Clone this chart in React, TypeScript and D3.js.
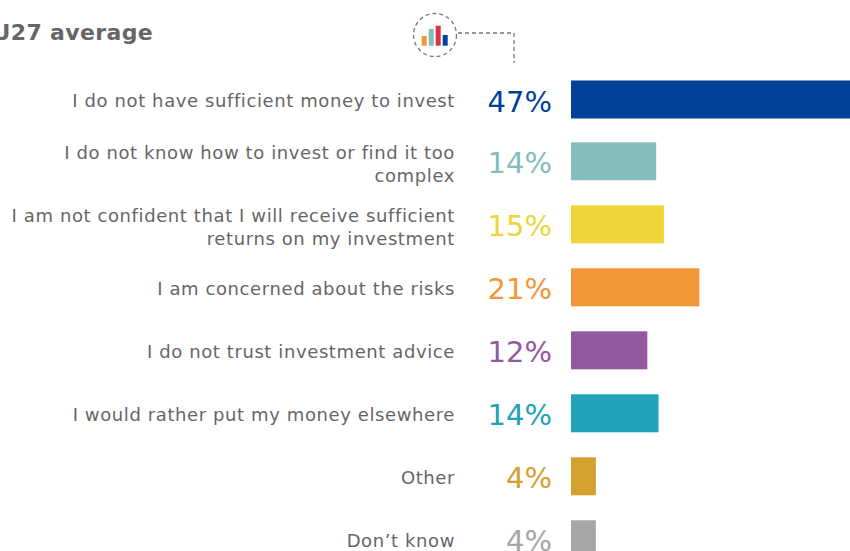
import React from "react";
import * as d3 from "d3";

const title = "EU27 average";
const labels: string[][] = [
  ["I do not have sufficient money to invest"],
  ["I do not know how to invest or find it too", "complex"],
  ["I am not confident that I will receive sufficient", "returns on my investment"],
  ["I am concerned about the risks"],
  ["I do not trust investment advice"],
  ["I would rather put my money elsewhere"],
  ["Other"],
  ["Don’t know"],
];
const values = [47, 14, 15, 21, 12, 14, 4, 4];
const widths = [48.5, 14.4, 15.7, 21.7, 12.9, 14.8, 4.2, 4.2];
const colors = ["#00429a", "#85bcbc", "#eed538", "#f39637", "#93599e", "#20a2b8", "#d4a02f", "#a6a6a6"];
const iconHeights = [9.7, 16.7, 20, 10.7];
const iconColors = ["#f39637", "#85bcbc", "#dc3545", "#00429a"];

const font = "Verdana, 'DejaVu Sans', sans-serif";

export default function App() {
  const x = d3.scaleLinear().domain([0, 48.5]).range([571, 858]);
  const y = d3.scaleLinear().domain([0, 1, 7]).range([99.5, 161.3, 539.3]);
  const ids = d3.range(values.length);
  return (
    <svg width={850} height={551} style={{ position: "fixed", left: 0, top: 0, background: "#fff" }} fontFamily={font}>
      <text x={153} y={40} textAnchor="end" fontSize={22} fontWeight="bold" letterSpacing={0.35} fill="#666">{title}</text>
      <circle cx={435} cy={35} r={21.5} fill="none" stroke="#777" strokeWidth={1.3} strokeDasharray="4 3" />
      <path d="M458 33H514V63" fill="none" stroke="#777" strokeWidth={1.3} strokeDasharray="4 3" />
      {iconHeights.map((h, i) => (
        <rect key={i} x={421.7 + i * 7} y={45.7 - h} width={5} height={h} fill={iconColors[i]} />
      ))}
      {ids.map((i) => (
        <g key={i}>
          <rect x={x(0)} y={y(i) - 19} width={x(widths[i]) - x(0)} height={38} fill={colors[i]} />
          <text x={552} y={y(i) + 12} textAnchor="end" fontSize={29} fill={colors[i]}>{values[i]}%</text>
          {labels[i].map((t, j) => (
            <text key={j} x={455} y={y(i) + 7.5 + (labels[i].length === 2 ? (j === 0 ? -9.5 : 13.5) : 0)} textAnchor="end" fontSize={18} letterSpacing={0.6} fill="#666">{t}</text>
          ))}
        </g>
      ))}
    </svg>
  );
}
